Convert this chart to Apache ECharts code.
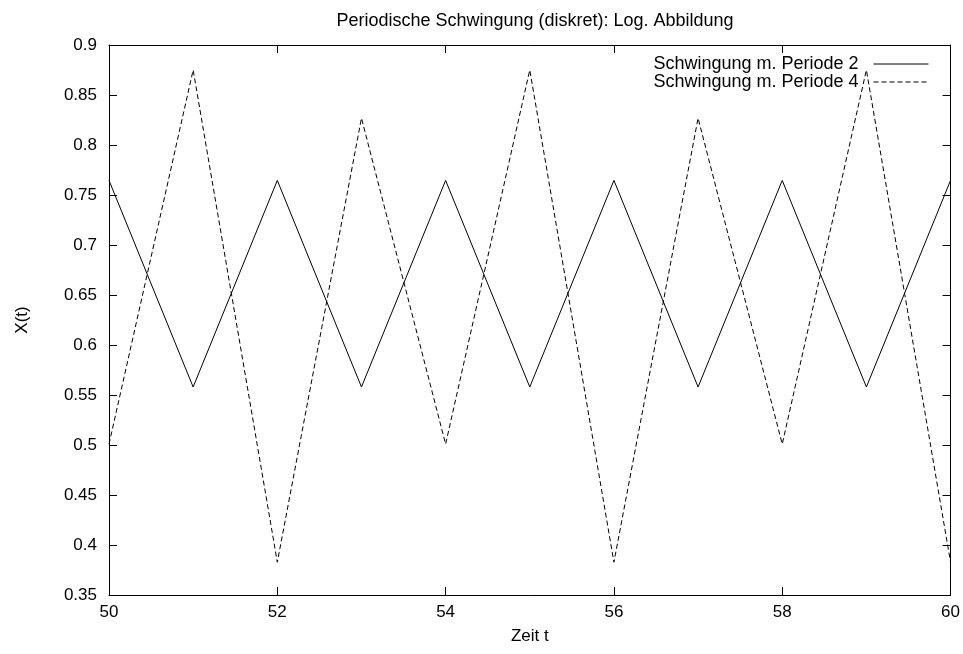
<!DOCTYPE html>
<html>
<head>
<meta charset="utf-8">
<script src="https://cdn.jsdelivr.net/npm/echarts@6/dist/echarts.min.js"></script>
<style>
  html, body { margin: 0; padding: 0; background: #fff; }
  #chart { width: 963px; height: 654px; }
</style>
</head>
<body>
<div id="chart"></div>
<script>
// Logistische Abbildung: Perioden 2 und 4, t = 50..60
const zeit = [50, 51, 52, 53, 54, 55, 56, 57, 58, 59, 60];
const periode2 = [0.7646, 0.5580, 0.7646, 0.5580, 0.7646, 0.5580, 0.7646, 0.5580, 0.7646, 0.5580, 0.7646];
const periode4 = [0.5009, 0.8750, 0.3828, 0.8269, 0.5009, 0.8750, 0.3828, 0.8269, 0.5009, 0.8750, 0.3828];
const serienNamen = ["Schwingung m. Periode 2", "Schwingung m. Periode 4"];

const FONT = "Liberation Sans, Arial, sans-serif";
const tick = { show: true, inside: true, length: 8, lineStyle: { color: "#000", width: 1 } };
const line = { show: true, onZero: false, lineStyle: { color: "#000", width: 1 } };

const chart = echarts.init(document.getElementById("chart"), null, { renderer: "canvas" });
chart.setOption({
  animation: false,
  backgroundColor: "#fff",
  textStyle: { fontFamily: FONT, color: "#000" },
  title: {
    text: "Periodische Schwingung (diskret): Log. Abbildung",
    left: 530, top: 7, textAlign: "center",
    textStyle: { fontFamily: FONT, fontSize: 18, fontWeight: "normal", color: "#000" },
  },
  legend: {
    orient: "vertical",
    right: 29, top: 50,
    align: "right",
    itemWidth: 55, itemHeight: 18, itemGap: 0,
    itemStyle: { opacity: 0 },
    lineStyle: { width: 1 },
    textStyle: { fontFamily: FONT, fontSize: 18, color: "#000", lineHeight: 18, padding: [0, 10, 0, 0] },
    data: serienNamen,
  },
  grid: { left: 109, top: 45, right: 12, bottom: 59 },
  xAxis: [
    {
      type: "value", min: 50, max: 60, interval: 2, position: "bottom",
      name: "Zeit t", nameLocation: "middle", nameGap: 33,
      nameTextStyle: { fontFamily: FONT, fontSize: 17, color: "#000" },
      axisLine: line, axisTick: tick, splitLine: { show: false },
      axisLabel: { fontFamily: FONT, fontSize: 17, color: "#000", margin: 9 },
    },
    {
      type: "value", min: 50, max: 60, interval: 2, position: "top",
      axisLine: line, axisTick: tick, splitLine: { show: false }, axisLabel: { show: false },
    },
  ],
  yAxis: [
    {
      type: "value", min: 0.35, max: 0.9, interval: 0.05, position: "left",
      name: "X(t)", nameLocation: "middle", nameGap: 78, nameRotate: 90,
      nameTextStyle: { fontFamily: FONT, fontSize: 17, color: "#000" },
      axisLine: line, axisTick: tick, splitLine: { show: false },
      axisLabel: { fontFamily: FONT, fontSize: 17, color: "#000", margin: 12,
        formatter: (v) => String(+v.toFixed(2)) },
    },
    {
      type: "value", min: 0.35, max: 0.9, interval: 0.05, position: "right",
      axisLine: line, axisTick: tick, splitLine: { show: false }, axisLabel: { show: false },
    },
  ],
  series: [
    {
      name: serienNamen[0], type: "line", symbol: "none",
      data: zeit.map((t, i) => [t, periode2[i]]),
      lineStyle: { color: "#000", width: 1 }, itemStyle: { color: "#000" },
    },
    {
      name: serienNamen[1], type: "line", symbol: "none",
      data: zeit.map((t, i) => [t, periode4[i]]),
      lineStyle: { color: "#000", width: 1, type: [5, 3] }, itemStyle: { color: "#000" },
    },
  ],
});
</script>
</body>
</html>
